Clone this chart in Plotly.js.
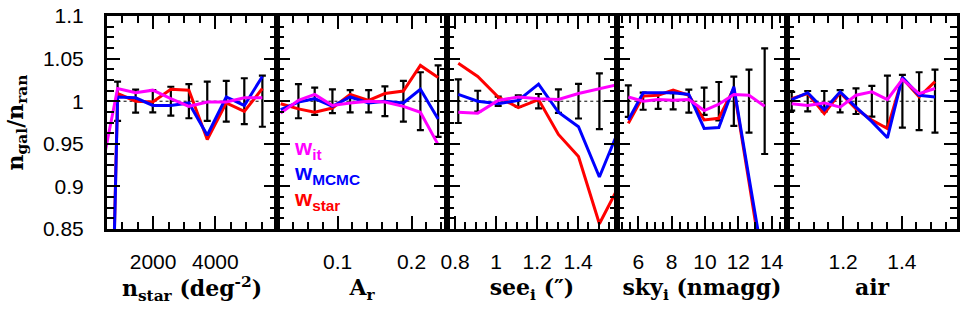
<!DOCTYPE html>
<html>
<head>
<meta charset="utf-8">
<script src="https://cdn.plot.ly/plotly-3.0.1.min.js"></script>
<style>html,body{margin:0;padding:0;background:#fff;}#chart{width:970px;height:314px;}</style>
</head>
<body>
<div id="chart"></div>
<script>
// ---------- data ----------
// Panel 1: stellar density
var nstarBins = [270, 860, 1440, 1990, 2570, 3150, 3740, 4350, 4930, 5510];
var nstarWit  = [0.905, 1.015, 1.010, 1.013, 1.003, 0.994, 0.999, 0.999, 1.004, 1.004];
var nstarMCMC = [0.08, 1.005, 1.004, 0.995, 0.995, 0.998, 0.960, 1.005, 0.995, 1.029];
var nstarStar = [0.08, 1.009, 1.000, 0.999, 1.014, 1.013, 0.955, 0.998, 0.988, 1.015];
var nstarErr  = [null, 0.023, 0.0135, 0.013, 0.017, 0.020, 0.023, 0.024, 0.027, 0.030];

// Panel 2: extinction A_r
var arBins = [0.023, 0.047, 0.069, 0.093, 0.117, 0.142, 0.164, 0.189, 0.212, 0.236];
var arWit  = [0.986, 1.001, 1.008, 0.995, 0.998, 1.000, 0.999, 0.994, 0.987, 0.949];
var arMCMC = [0.990, 0.999, 1.003, 0.994, 1.005, 0.998, 1.000, 0.998, 1.014, 0.979];
var arStar = [0.997, 0.991, 0.987, 0.992, 1.008, 1.001, 1.009, 1.012, 1.042, 1.028];
var arErr  = [null, 0.020, 0.016, 0.014, 0.013, 0.013, 0.0175, 0.024, 0.034, 0.042];

// Panel 3: seeing
var seeBins = [0.815, 0.910, 1.010, 1.108, 1.207, 1.304, 1.402, 1.504, 1.603];
var seeWit  = [0.987, 0.986, 1.001, 1.005, 1.003, 1.002, 1.009, 1.015, 1.020];
var seeMCMC = [1.008, 1.000, 0.997, 1.001, 1.020, 0.987, 0.970, 0.911, 0.969];
var seeStar = [1.0445, 1.029, 1.005, 0.9925, 1.002, 0.961, 0.935, 0.856, 0.902];
var seeErr  = [0.0256, 0.0123, 0.0055, 0.0068, 0.0085, 0.0138, 0.0203, 0.0328, null];

// Panel 4: sky background
var skyBins = [5.40, 6.29, 7.19, 8.09, 9.03, 9.95, 10.83, 11.73, 12.64, 13.58];
var skyWit  = [1.005, 1.000, 1.002, 1.001, 1.002, 0.989, 0.9965, 1.008, 1.007, 0.994];
var skyMCMC = [0.978, 1.010, 1.010, 1.010, 1.008, 0.968, 0.969, 1.017, 0.910, 0.802];
var skyStar = [0.974, 1.006, 1.007, 1.013, 1.007, 0.978, 0.980, 1.015, 0.905, 0.790];
var skyErr  = [0.0185, 0.010, 0.009, 0.0095, 0.0135, 0.016, 0.0226, 0.029, 0.037, 0.062];

// Panel 5: airmass
var airBins = [1.025, 1.0795, 1.136, 1.190, 1.244, 1.298, 1.351, 1.402, 1.459, 1.513];
var airWit  = [0.997, 0.995, 0.998, 0.993, 1.007, 1.011, 1.002, 1.0256, 1.009, 1.015];
var airMCMC = [1.002, 1.010, 0.990, 1.011, 0.993, 0.976, 0.957, 1.028, 1.007, 1.005];
var airStar = [1.003, 1.009, 0.9855, 1.010, 0.991, 0.978, 0.968, 1.027, 1.005, 1.023];
var airErr  = [0.011, 0.012, 0.012, 0.013, 0.015, 0.018, 0.030, 0.031, 0.034, 0.037];

var refLevel = 1;
var xTitles = ['n<sub>star</sub> (deg<sup>-2</sup>)', 'A<sub>r</sub>', 'see<sub>i</sub> (″)', 'sky<sub>i</sub> (nmagg)', 'air'];
var yTitle = 'n<sub>gal</sub>/n<sub>ran</sub>';
var legendNames = ['w<sub>it</sub>', 'w<sub>MCMC</sub>', 'w<sub>star</sub>'];

// ---------- chart ----------
var colWit = '#ff00ff', colMCMC = '#0000ff', colStar = '#ff0000';
var panels = [
  {bins: nstarBins, wit: nstarWit, mcmc: nstarMCMC, star: nstarStar, err: nstarErr, range: [520, 5980], dtick: 2000, minor: 500},
  {bins: arBins, wit: arWit, mcmc: arMCMC, star: arStar, err: arErr, range: [0.018, 0.248], dtick: 0.1, minor: 0.02},
  {bins: seeBins, wit: seeWit, mcmc: seeMCMC, star: seeStar, err: seeErr, range: [0.76, 1.59], dtick: 0.2, minor: 0.05},
  {bins: skyBins, wit: skyWit, mcmc: skyMCMC, star: skyStar, err: skyErr, range: [4.72, 14.92], dtick: 2, minor: 0.5},
  {bins: airBins, wit: airWit, mcmc: airMCMC, star: airStar, err: airErr, range: [1.009, 1.588], dtick: 0.2, minor: 0.05}
];

var traces = [];
var layout = {
  width: 970, height: 314,
  margin: {l: 107, r: 13, t: 16, b: 85},
  paper_bgcolor: '#fff', plot_bgcolor: '#fff',
  showlegend: false,
  annotations: []
};
var tickFont = {family: 'Liberation Sans, Arial, sans-serif', size: 21, color: '#000'};
var titleFont = {family: 'DejaVu Serif, serif', size: 22, color: '#000', weight: 'bold'};

panels.forEach(function (p, i) {
  var n = i + 1;
  var xa = n === 1 ? 'x' : 'x' + n, ya = n === 1 ? 'y' : 'y' + n;
  var xk = n === 1 ? 'xaxis' : 'xaxis' + n, yk = n === 1 ? 'yaxis' : 'yaxis' + n;
  var ex = [], ey = [], ee = [];
  p.bins.forEach(function (b, j) {
    if (p.err[j] !== null) { ex.push(b); ey.push(refLevel); ee.push(p.err[j]); }
  });
  // dotted reference line
  traces.push({x: [ex[0], p.bins[p.bins.length - 1]], y: [refLevel, refLevel], xaxis: xa, yaxis: ya,
    mode: 'lines', line: {color: '#000', width: 1, dash: 'dot'}, hoverinfo: 'skip'});
  // error bars
  traces.push({x: ex, y: ey, xaxis: xa, yaxis: ya, mode: 'markers',
    marker: {size: 1, color: 'rgba(0,0,0,0)'},
    error_y: {type: 'data', array: ee, visible: true, color: '#000', thickness: 2.2, width: 3.5}});
  traces.push({x: p.bins, y: p.star, xaxis: xa, yaxis: ya, mode: 'lines', line: {color: colStar, width: 3}});
  traces.push({x: p.bins, y: p.mcmc, xaxis: xa, yaxis: ya, mode: 'lines', line: {color: colMCMC, width: 3}});
  traces.push({x: p.bins, y: p.wit, xaxis: xa, yaxis: ya, mode: 'lines', line: {color: colWit, width: 3}});

  layout[xk] = {
    domain: [i / 5, (i + 1) / 5], anchor: ya, range: p.range,
    tick0: 0, dtick: p.dtick, ticks: 'inside', ticklen: 13, tickwidth: 2, tickcolor: '#000',
    minor: {dtick: p.minor, ticks: 'inside', ticklen: 7, tickwidth: 2, tickcolor: '#000', showgrid: false},
    showline: true, linewidth: 3, linecolor: '#000', mirror: 'allticks',
    showgrid: false, zeroline: false, tickfont: tickFont, ticklabelstandoff: 12,
    title: {text: xTitles[i], font: titleFont, standoff: 8}
  };
  layout[yk] = {
    domain: [0, 1], anchor: xa, range: [0.8499, 1.1001],
    tick0: 0, dtick: 0.05, ticks: 'inside', ticklen: 13, tickwidth: 2, tickcolor: '#000',
    minor: {dtick: 0.0125, ticks: 'inside', ticklen: 7, tickwidth: 2, tickcolor: '#000', showgrid: false},
    showline: true, linewidth: 3, linecolor: '#000', mirror: 'allticks',
    showgrid: false, zeroline: false, tickfont: tickFont,
    showticklabels: n === 1, ticklabelstandoff: 16
  };
  if (n === 1) {
    layout[yk].title = {text: yTitle, font: titleFont, standoff: 14};
  } else {
    layout[yk].matches = 'y';
  }
});

var legCols = [colWit, colMCMC, colStar];
var legY = [149, 174, 200];
legendNames.forEach(function (t, k) {
  layout.annotations.push({
    text: t, xref: 'paper', yref: 'paper', xanchor: 'left', yanchor: 'middle', showarrow: false,
    x: (292 - 107) / 850, y: 1 - (legY[k] - 16) / 213,
    font: {family: 'Liberation Sans, Arial, sans-serif', size: 22, color: legCols[k], weight: 'bold'}
  });
});

Plotly.newPlot('chart', traces, layout, {displayModeBar: false, staticPlot: true});
</script>
</body>
</html>
